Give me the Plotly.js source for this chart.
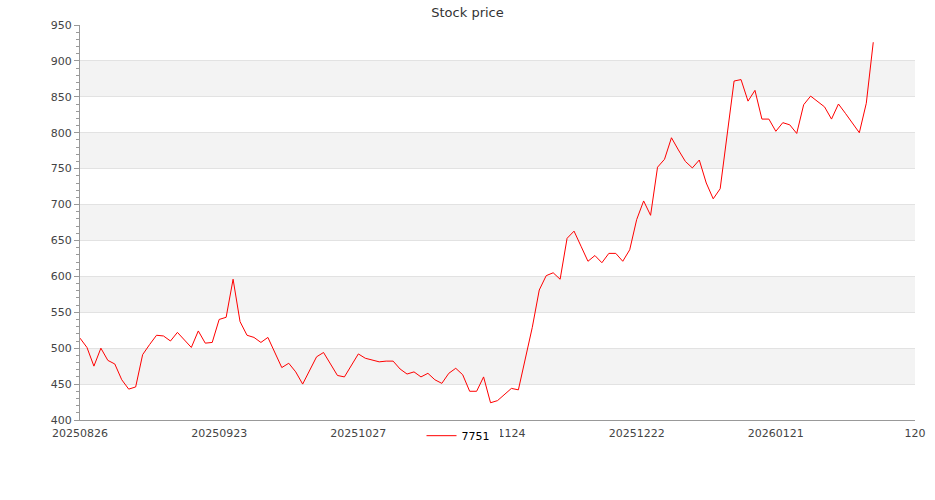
<!DOCTYPE html>
<html>
<head>
<meta charset="utf-8">
<script src="https://cdn.plot.ly/plotly-3.0.1.min.js"></script>
<style>html,body{margin:0;padding:0;background:#fff;}#chart{width:935px;height:500px;}</style>
</head>
<body>
<div id="chart"></div>
<script>
const seriesName = '7751';
const chartTitle = 'Stock price';
const tickPositions = [0, 20, 40, 60, 80, 100, 120];
const tickLabels = ['20250826', '20250923', '20251027', '20251124', '20251222', '20260121', '120'];
const prices = [
  514, 501, 475, 500, 483, 478, 456, 443, 446, 491,
  505, 518, 517, 510, 522, 512, 501, 524, 507, 508,
  540, 543, 596, 537, 518, 515, 508, 515, 494, 473,
  479, 467, 450, 469, 488, 494, 478, 462, 460, 476,
  492, 486, 484, 481, 482, 482, 471, 464, 467, 460,
  465, 456, 451, 465, 472, 463, 440, 440, 460, 424,
  427, 436, 444, 442, 484, 529, 581, 601, 605, 596,
  653, 663, 642, 621, 629, 619, 632, 632, 621, 637,
  679, 705, 685, 752, 763, 793, 776, 760, 751, 762,
  730, 708, 722, 795, 872, 874, 844, 859, 819, 819,
  802, 814, 811, 799, 839, 851, 844, 836, 819, 840,
  827, 813, 800, 841, 926
];
const xIndex = prices.map((_, i) => i);
const yMin = 400, yMax = 950, yStep = 50;

// alternating background bands between gridlines
const bands = [];
for (let v = yMin, k = 0; v < yMax; v += yStep, k++) {
  if (k % 2 === 1) {
    bands.push({type: 'rect', xref: 'paper', yref: 'y', x0: 0, x1: 1, y0: v, y1: v + yStep,
      fillcolor: '#f3f3f3', line: {width: 0}, layer: 'below'});
  }
}

const font = {family: 'DejaVu Sans, sans-serif', size: 11, color: '#444'};

Plotly.newPlot('chart', [{
  x: xIndex, y: prices, type: 'scatter', mode: 'lines', name: seriesName,
  line: {color: '#ff0000', width: 1}
}], {
  width: 935, height: 500,
  margin: {l: 80, r: 20, t: 25, b: 80},
  paper_bgcolor: '#fff', plot_bgcolor: 'rgba(0,0,0,0)',
  font: font,
  title: {text: chartTitle, x: 0.5, xanchor: 'center', y: 0.985, yanchor: 'top',
    font: {family: 'DejaVu Sans, sans-serif', size: 13, color: '#333'}},
  showlegend: true,
  legend: {orientation: 'h', x: 0.409, xanchor: 'left', y: -0.003, yanchor: 'top',
    entrywidth: 33, entrywidthmode: 'pixels',
    bgcolor: '#fff', font: {family: 'DejaVu Sans, sans-serif', size: 11, color: '#000'}},
  xaxis: {range: [0, 120], tickmode: 'array', tickvals: tickPositions, ticktext: tickLabels,
    showgrid: false, zeroline: false, showline: true, linecolor: '#999', linewidth: 1,
    ticks: '', ticklabelstandoff: 3, tickfont: font, fixedrange: true},
  yaxis: {range: [yMin, yMax], dtick: yStep, tick0: yMin, showgrid: true, gridcolor: '#e2e2e2',
    zeroline: false, showline: true, linecolor: '#999', linewidth: 1,
    ticks: 'outside', ticklen: 5, tickcolor: '#999', tickfont: font,
    minor: {dtick: 10, ticks: 'outside', ticklen: 3, tickcolor: '#999', showgrid: false}},
  shapes: bands
}, {displayModeBar: false, staticPlot: true});
</script>
</body>
</html>
